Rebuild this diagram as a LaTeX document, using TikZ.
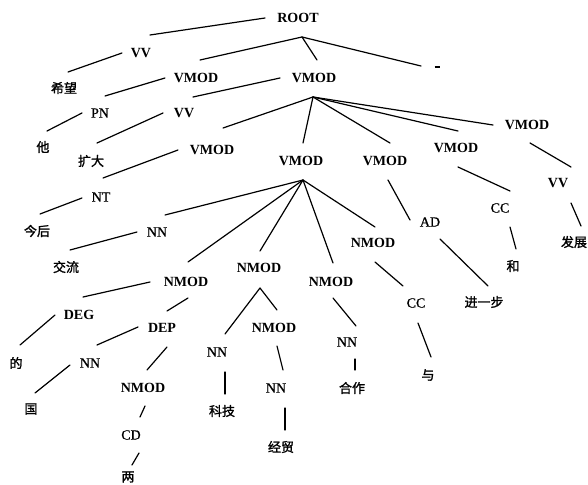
\documentclass[tikz,border=0pt]{standalone}
\usepackage{fontspec}
\setmainfont{Liberation Serif}
\newfontfamily\cjkf[FakeBold=1.5]{Noto Sans CJK SC}
\newfontfamily\tagf[FakeBold=0.8]{Liberation Serif}
\newcommand\lnk[6]{\draw[edge] ([shift={(#2,#3)}]#1.center) -- ([shift={(#5,#6)}]#4.center);}
\begin{document}
\begin{tikzpicture}[x=1pt,y=-1pt,
  rel/.style={inner sep=0pt,font=\bfseries\fontsize{14}{14}\selectfont},
  tag/.style={inner sep=0pt,font=\tagf\fontsize{14}{14}\selectfont},
  wd/.style={inner sep=0pt,font=\cjkf\fontsize{13}{13}\selectfont},
  edge/.style={line width=1.2pt,line cap=round}]
\useasboundingbox (0,0) rectangle (588,484);
% nodes
\node[rel] (root) at (298,18) {ROOT};
\node[rel] (vv1) at (141,53) {VV};
\node[wd] (xiwang) at (64,88) {希望};
\node[rel] (vmodA) at (196,78) {VMOD};
\node[rel] (vmodB) at (314,78) {VMOD};
\node[inner sep=0pt] (punct) at (437,67) {\rule{5pt}{2.6pt}};
\node[tag] (pn) at (100,113) {PN};
\node[wd] (ta) at (43,147) {他};
\node[rel] (vv2) at (184,113) {VV};
\node[wd] (kuoda) at (91,161) {扩大};
\node[rel] (vmodC) at (212,150) {VMOD};
\node[rel] (vmodD) at (301,161) {VMOD};
\node[rel] (vmodE) at (385,161) {VMOD};
\node[rel] (vmodF) at (456,148) {VMOD};
\node[rel] (vmodG) at (527,125) {VMOD};
\node[tag] (nt) at (101,197) {NT};
\node[wd] (jinhou) at (37,231) {今后};
\node[tag] (nn1) at (157,232) {NN};
\node[wd] (jiaoliu) at (66,267) {交流};
\node[rel] (nmodA) at (186,282) {NMOD};
\node[rel] (nmodB) at (259,268) {NMOD};
\node[rel] (nmodC) at (331,282) {NMOD};
\node[rel] (nmodD) at (373,243) {NMOD};
\node[tag] (ad) at (430,222) {AD};
\node[tag] (cc1) at (500,208) {CC};
\node[rel] (vv3) at (558,183) {VV};
\node[wd] (fazhan) at (574,242) {发展};
\node[wd] (he) at (513,266) {和};
\node[wd] (jinyibu) at (484,302) {进一步};
\node[tag] (cc2) at (416,303) {CC};
\node[wd] (yu) at (428,375) {与};
\node[rel] (deg) at (79,315) {DEG};
\node[wd] (de) at (16,363) {的};
\node[rel] (dep) at (162,328) {DEP};
\node[tag] (nn2) at (90,363) {NN};
\node[wd] (guo) at (31,409) {国};
\node[rel] (nmodE) at (143,388) {NMOD};
\node[tag] (cd) at (131,435) {CD};
\node[wd] (liang) at (128,477) {两};
\node[tag] (nn3) at (217,352) {NN};
\node[wd] (keji) at (222,411) {科技};
\node[rel] (nmodF) at (274,328) {NMOD};
\node[tag] (nn4) at (276,388) {NN};
\node[wd] (jingmao) at (281,447) {经贸};
\node[tag] (nn5) at (347,342) {NN};
\node[wd] (hezuo) at (352,388) {合作};
% edges
\lnk{root}{-33}{0}{vv1}{9}{-18}
\lnk{vv1}{-19}{0}{xiwang}{4}{-16}
\lnk{root}{4}{19}{vmodA}{4}{-18}
\lnk{root}{4}{19}{vmodB}{3}{-18}
\lnk{root}{4}{19}{punct}{-16}{-1}
\lnk{vmodA}{-31}{0}{pn}{5}{-17}
\lnk{pn}{-18}{0}{ta}{4}{-16}
\lnk{vmodB}{-34}{0}{vv2}{9}{-16}
\lnk{vv2}{-21}{0}{kuoda}{6}{-18}
\lnk{vmodB}{-1}{19}{vmodC}{11}{-22}
\lnk{vmodB}{-1}{19}{vmodD}{2}{-18}
\lnk{vmodB}{-1}{19}{vmodE}{5}{-18}
\lnk{vmodB}{-1}{19}{vmodF}{2}{-17}
\lnk{vmodB}{-1}{19}{vmodG}{-34}{0}
\lnk{vmodC}{-34}{0}{nt}{2}{-19}
\lnk{nt}{-19}{1}{jinhou}{3}{-17}
\lnk{vmodD}{2}{19}{nn1}{8}{-17}
\lnk{nn1}{-20}{0}{jiaoliu}{4}{-17}
\lnk{vmodD}{2}{19}{nmodA}{2}{-20}
\lnk{vmodD}{2}{19}{nmodB}{1}{-17}
\lnk{vmodD}{2}{19}{nmodC}{2}{-19}
\lnk{vmodD}{2}{19}{nmodD}{2}{-16}
\lnk{vmodE}{3}{19}{ad}{-20}{-2}
\lnk{ad}{10}{17}{jinyibu}{4}{-16}
\lnk{vmodF}{2}{19}{cc1}{10}{-17}
\lnk{cc1}{10}{19}{he}{3}{-17}
\lnk{vmodG}{3}{18}{vv3}{13}{-16}
\lnk{vv3}{13}{20}{fazhan}{7}{-16}
\lnk{nmodD}{2}{19}{cc2}{-13}{-17}
\lnk{cc2}{2}{20}{yu}{3}{-18}
\lnk{nmodC}{2}{16}{nn5}{9}{-16}
\lnk{nn5}{8}{17}{hezuo}{3}{-18}
\lnk{nmodB}{1}{20}{nn3}{8}{-18}
\lnk{nmodB}{1}{20}{nmodF}{3}{-18}
\lnk{nn3}{8}{20}{keji}{3}{-17}
\lnk{nmodF}{3}{18}{nn4}{7}{-18}
\lnk{nn4}{9}{20}{jingmao}{4}{-17}
\lnk{nmodA}{-36}{0}{deg}{4}{-18}
\lnk{deg}{-24}{0}{de}{4}{-18}
\lnk{nmodA}{2}{16}{dep}{5}{-17}
\lnk{dep}{-24}{-1}{nn2}{7}{-18}
\lnk{nn2}{-20}{2}{guo}{4}{-16}
\lnk{dep}{5}{19}{nmodE}{4}{-18}
\lnk{nmodE}{2}{18}{cd}{9}{-18}
\lnk{cd}{8}{18}{liang}{4}{-12}
\end{tikzpicture}
\end{document}
